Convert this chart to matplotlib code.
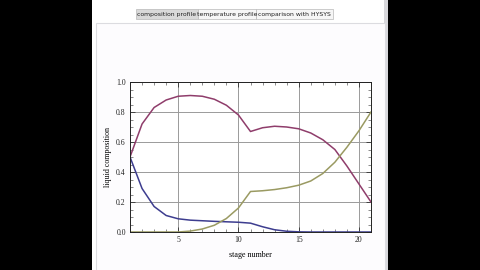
import matplotlib
matplotlib.use('Agg')
from matplotlib import pyplot as plt
from matplotlib.patches import Rectangle
from matplotlib.ticker import MultipleLocator

# liquid composition per stage
stages = list(range(1, 22))
comp_light = [0.50, 0.29, 0.17, 0.11, 0.088, 0.079, 0.075, 0.071, 0.068, 0.065,
              0.059, 0.035, 0.015, 0.005, 0.001, 0.0, 0.0, 0.0, 0.0, 0.0, 0.0]
comp_mid = [0.50, 0.72, 0.83, 0.88, 0.905, 0.91, 0.905, 0.885, 0.845, 0.78,
            0.67, 0.695, 0.705, 0.70, 0.688, 0.66, 0.615, 0.55, 0.44, 0.32, 0.20]
comp_heavy = [0.0, 0.0, 0.0, 0.0, 0.0, 0.006, 0.02, 0.045, 0.09, 0.16,
              0.27, 0.275, 0.283, 0.295, 0.312, 0.34, 0.39, 0.465, 0.565, 0.675, 0.80]

tabs = ['composition profile', 'temperature profile', 'comparison with HYSYS']
tab_edges = [136, 198, 256, 333]

W, H = 480, 270
fig = plt.figure(figsize=(4.8, 2.7), dpi=100, facecolor='black')

def px(x, y):
    return x / W, 1 - y / H

# window background and panel
fig.patches.append(Rectangle((92 / W, 0), (388 - 92) / W, 1, transform=fig.transFigure,
                             facecolor='white', edgecolor='none', zorder=0))
fig.patches.append(Rectangle((384 / W, 0), 4 / W, 1, transform=fig.transFigure,
                             facecolor='#d8d8dc', edgecolor='none', zorder=0))
fig.patches.append(Rectangle((96 / W, -0.01), (385 - 96) / W, (1 - 23 / H) + 0.01,
                             transform=fig.transFigure, facecolor='#fdfcfe',
                             edgecolor='#dcdce0', lw=0.8, zorder=1))

# tab buttons
for i, name in enumerate(tabs):
    x0, x1 = tab_edges[i], tab_edges[i + 1]
    fc = '#d9d9d9' if i == 0 else '#f6f6f6'
    fig.patches.append(Rectangle(px(x0, 19), (x1 - x0) / W, 10 / H, transform=fig.transFigure,
                                 facecolor=fc, edgecolor='#b8b8b8', lw=0.5, zorder=2))
    fig.text((x0 + x1) / 2 / W, 1 - 14.5 / H, name, ha='center', va='center',
             fontsize=4.4, family='DejaVu Sans', color='#202020', zorder=3)

ax = fig.add_axes([130 / W, 1 - 232 / H, (371 - 130) / W, (232 - 82) / H])
ax.set_facecolor('white')
ax.set_zorder(3)

ax.plot(stages, comp_light, color='#3d3d8f', lw=1.1)
ax.plot(stages, comp_mid, color='#8f3d6b', lw=1.1)
ax.plot(stages, comp_heavy, color='#9a9a62', lw=1.1)

ax.set_xlim(1, 21)
ax.set_ylim(0, 1)
ax.set_xticks([5, 10, 15, 20])
ax.set_yticks([0.0, 0.2, 0.4, 0.6, 0.8, 1.0])
ax.set_yticklabels(['0.0', '0.2', '0.4', '0.6', '0.8', '1.0'])
ax.xaxis.set_minor_locator(MultipleLocator(1))
ax.yaxis.set_minor_locator(MultipleLocator(0.05))
ax.tick_params(which='both', direction='in', top=True, right=True, labelsize=5.6,
               pad=3, color='#333333', labelcolor='#222222')
ax.tick_params(which='major', length=3.5, width=0.6)
ax.tick_params(which='minor', length=2, width=0.4)
for lbl in ax.get_xticklabels() + ax.get_yticklabels():
    lbl.set_family('Liberation Serif')
ax.grid(True, which='major', color='#9a9a9a', lw=0.7)
ax.set_axisbelow(True)
for sp in ax.spines.values():
    sp.set_color('#222222')
    sp.set_linewidth(0.7)

ax.set_xlabel('stage number', fontsize=5.8, family='Liberation Serif', labelpad=5)
ax.set_ylabel('liquid composition', fontsize=5.8, family='Liberation Serif', labelpad=3)

fig.savefig('out.png', dpi=100, facecolor='black')
